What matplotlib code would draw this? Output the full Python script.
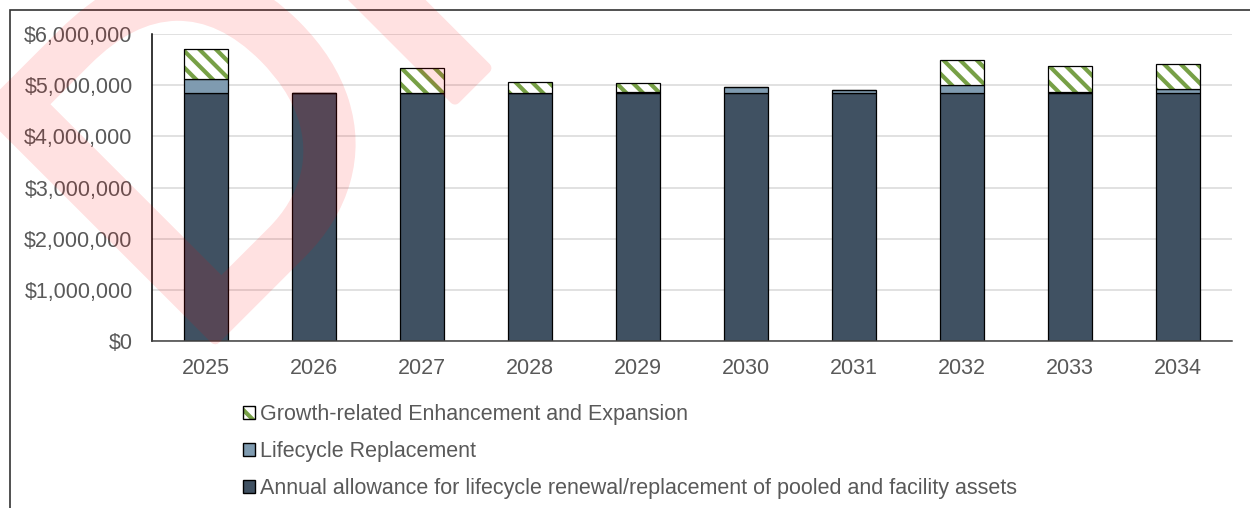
import matplotlib
matplotlib.use("Agg")
import matplotlib.pyplot as plt
import matplotlib.patheffects as pe
from matplotlib.patches import Patch, Rectangle
from matplotlib.ticker import FuncFormatter

plt.rcParams['font.family'] = ['Liberation Sans', 'DejaVu Sans']
plt.rcParams['hatch.linewidth'] = 3.0

# capital budget by year
years = ['2025', '2026', '2027', '2028', '2029', '2030', '2031', '2032', '2033', '2034']
annual_allowance = [4850000, 4850000, 4850000, 4850000, 4850000,
                    4850000, 4850000, 4850000, 4850000, 4850000]
lifecycle = [270000, 0, 0, 0, 20000, 105000, 50000, 150000, 15000, 75000]
growth = [590000, 0, 480000, 205000, 175000, 0, 0, 490000, 500000, 495000]

labels = ['Annual allowance for lifecycle renewal/replacement of pooled and facility assets',
          'Lifecycle Replacement',
          'Growth-related Enhancement and Expansion']

c_base = '#405162'
c_life = '#7F9BB0'
c_green = '#77A046'
c_text = '#595959'

fig = plt.figure(figsize=(12.5, 5.08), dpi=100)
ax = fig.add_axes([0.1216, 0.3287, 0.864, 0.6044])

x = list(range(len(years)))
w = 0.4
mid = [a + b for a, b in zip(annual_allowance, lifecycle)]

ax.bar(x, annual_allowance, w, color=c_base, edgecolor='black', linewidth=0.9, zorder=2)
ax.bar(x, lifecycle, w, bottom=annual_allowance, color=c_life, edgecolor='black',
       linewidth=0.9, zorder=2)
# hatched segment: stripes first, then a black outline on top
ax.bar(x, growth, w, bottom=mid, color='white', edgecolor=c_green, hatch='\\\\',
       linewidth=0, zorder=2)
ax.bar(x, growth, w, bottom=mid, fill=False, edgecolor='black', linewidth=0.9, zorder=3)

ax.set_xlim(-0.5, len(years) - 0.5)
ax.set_ylim(0, 6000000)
ax.set_yticks(range(0, 6000001, 1000000))
ax.yaxis.set_major_formatter(FuncFormatter(lambda v, p: f'${v:,.0f}'))
ax.set_xticks(x)
ax.set_xticklabels(years)
ax.tick_params(axis='y', length=0, pad=14, labelsize=15.5, labelcolor=c_text)
ax.tick_params(axis='x', length=0, pad=12, labelsize=15.5, labelcolor=c_text)

ax.grid(axis='y', color='#D9D9D9', linewidth=1.1)
ax.set_axisbelow(True)
for s in ['top', 'right']:
    ax.spines[s].set_visible(False)
ax.spines['left'].set_color('black')
ax.spines['left'].set_linewidth(1.1)
ax.spines['bottom'].set_color('#404040')
ax.spines['bottom'].set_linewidth(1.1)

handles = [
    (Patch(facecolor='white', edgecolor=c_green, hatch='\\\\', linewidth=0),
     Patch(fill=False, edgecolor='black', linewidth=1.0)),
    Patch(facecolor=c_life, edgecolor='black', linewidth=1.0),
    Patch(facecolor=c_base, edgecolor='black', linewidth=1.0),
]
fig.legend(handles, labels[::-1], loc='upper left',
           bbox_to_anchor=(243 / 1250, (508 - 404) / 508),
           frameon=False, fontsize=15.5, labelcolor=c_text,
           handlelength=0.56, handleheight=0.56, handletextpad=0.25,
           labelspacing=0.75, borderpad=0, borderaxespad=0)

# outer chart border
fig.add_artist(Rectangle((10 / 1250, -0.2), 2, (508 - 10) / 508 + 0.2,
                         transform=fig.transFigure, fill=False,
                         edgecolor='#333333', linewidth=1.2))


# watermark: opaque text + stroke, faded as one layer so overlaps stay even
def fade(img, dpi):
    out = img.copy()
    out[..., 3] = img[..., 3] * 0.12
    return out, 0, 0


wm = fig.text(188 / 1250, (508 - 366) / 508, 'DRAFT', rotation=45, rotation_mode='anchor',
              ha='left', va='baseline', fontsize=338, color='red', zorder=10,
              path_effects=[pe.withStroke(linewidth=8, foreground='red')])
wm.set_agg_filter(fade)

fig.savefig('out.png', dpi=100)
